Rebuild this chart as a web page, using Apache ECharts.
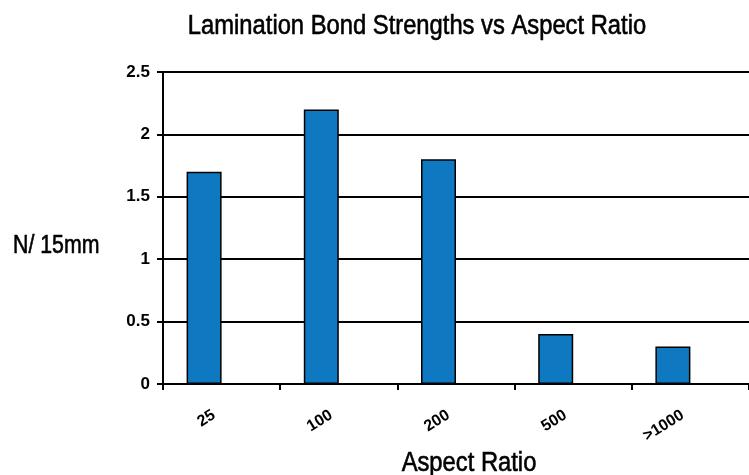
<!DOCTYPE html>
<html>
<head>
<meta charset="utf-8">
<script src="https://cdn.jsdelivr.net/npm/echarts@6/dist/echarts.min.js"></script>
<style>html,body{margin:0;padding:0;background:#fff}#c{width:749px;height:475px}</style>
</head>
<body>
<div id="c"></div>
<script>
const categories = ['25', '100', '200', '500', '>1000'];
const strengths = [1.7, 2.2, 1.8, 0.4, 0.3];
const yTicks = { min: 0, max: 2.5, interval: 0.5 };
const titleText = 'Lamination Bond Strengths vs Aspect Ratio';
const xName = 'Aspect Ratio';
const yName = 'N/ 15mm';

const sans = 'Liberation Sans, Arial, sans-serif';
const chart = echarts.init(document.getElementById('c'), null, { renderer: 'canvas' });
chart.setOption({
  animation: false,
  backgroundColor: '#fff',
  graphic: [
    { type: 'text', x: 417, y: 27, scaleX: 0.88,
      style: { x: 0, y: 0, text: titleText, align: 'center', verticalAlign: 'middle',
        font: 'normal 27px ' + sans, fill: '#000', stroke: '#000', lineWidth: 0.6 } },
    { type: 'text', x: 13, y: 246, scaleX: 0.82,
      style: { x: 0, y: 0, text: yName, align: 'left', verticalAlign: 'middle',
        font: 'normal 26px ' + sans, fill: '#000', stroke: '#000', lineWidth: 0.6 } },
    { type: 'text', x: 469, y: 464, scaleX: 0.88,
      style: { x: 0, y: 0, text: xName, align: 'center', verticalAlign: 'middle',
        font: 'normal 27px ' + sans, fill: '#000', stroke: '#000', lineWidth: 0.6 } }
  ],
  grid: { left: 163, right: -7, top: 72, bottom: 91, containLabel: false },
  xAxis: {
    type: 'category', data: categories, boundaryGap: true,
    axisLine: { show: true, lineStyle: { color: '#000', width: 2 } },
    axisTick: { show: true, alignWithLabel: false, length: 6, lineStyle: { color: '#000', width: 2 } },
    axisLabel: { rotate: 32, margin: 25, padding: [0, 9, 0, 0], color: '#000', fontFamily: sans,
      fontWeight: 'bold', fontSize: 16 }
  },
  yAxis: {
    type: 'value', min: yTicks.min, max: yTicks.max, interval: yTicks.interval,
    axisLine: { show: true, lineStyle: { color: '#000', width: 2 } },
    axisTick: { show: true, length: 6, lineStyle: { color: '#000', width: 2 } },
    axisLabel: { margin: 13, color: '#000', fontFamily: sans,
      fontWeight: 'bold', fontSize: 17 },
    splitLine: { show: true, lineStyle: { color: '#000', width: 2 } }
  },
  series: [
    { type: 'bar', data: strengths, barWidth: 35, barGap: '0%',
      itemStyle: { color: '#0E78C0', borderColor: '#000', borderWidth: 1.5 } },
    { type: 'bar', data: [], barWidth: 35, barGap: '0%' }
  ]
});
</script>
</body>
</html>
